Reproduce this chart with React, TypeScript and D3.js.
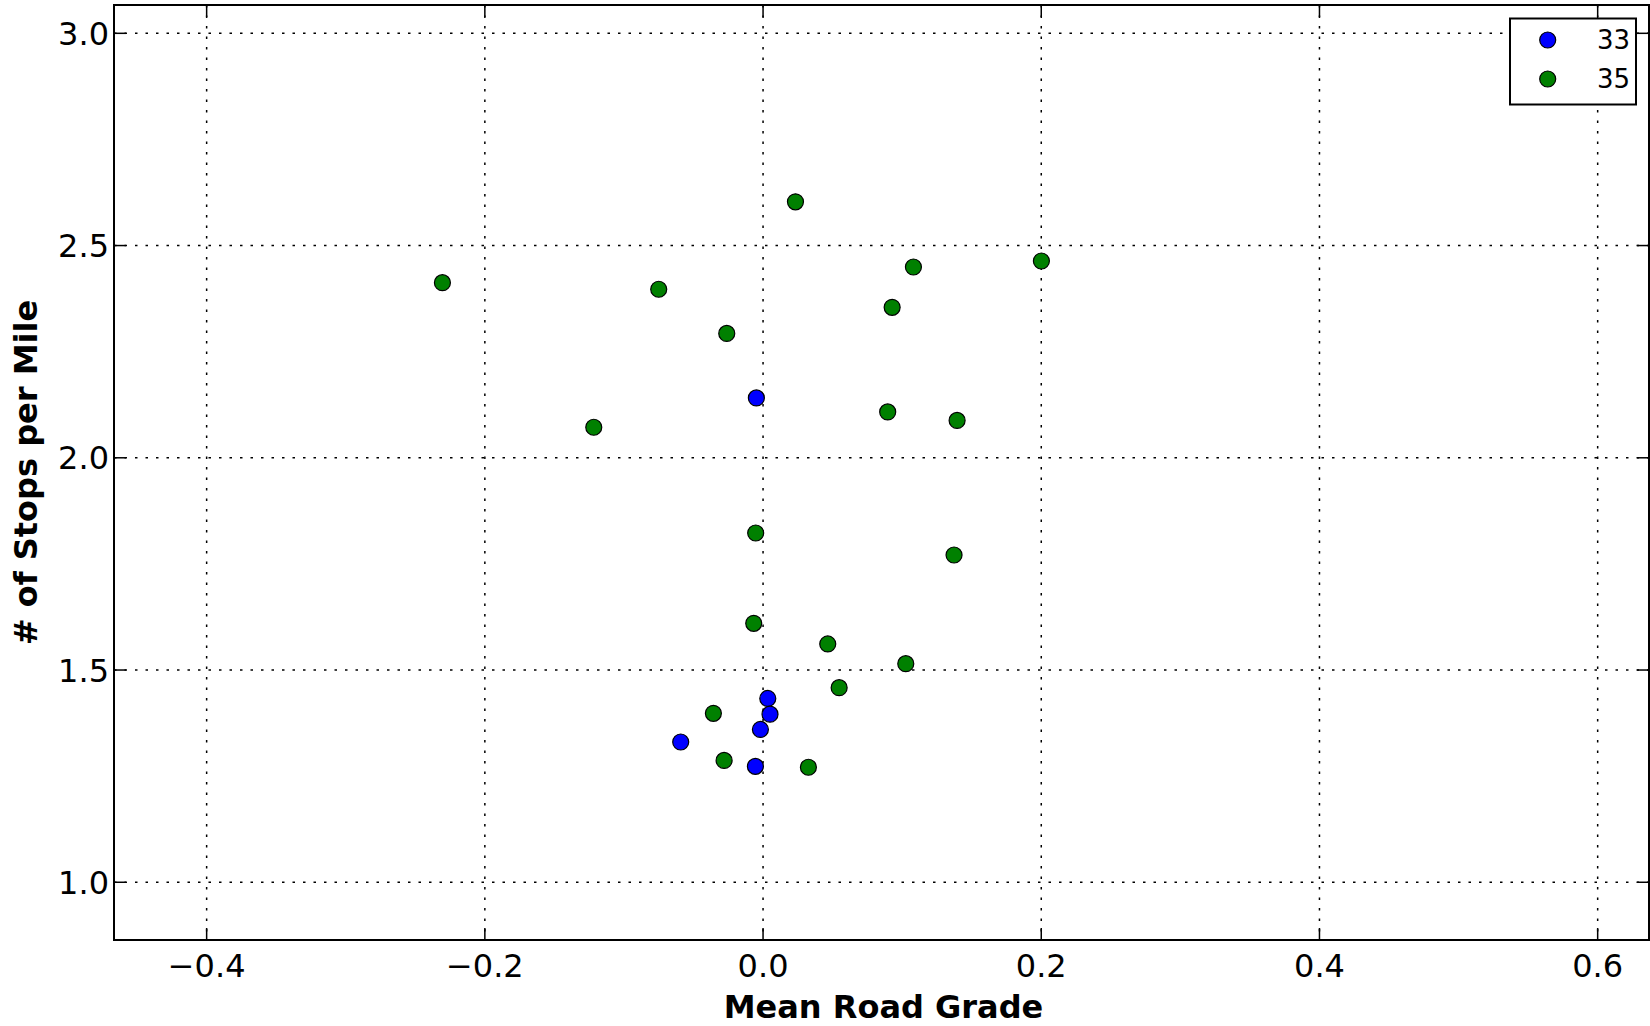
import React from "react";
import * as d3 from "d3";

const seriesNames = ["33", "35"];
const seriesColors = ["#0000ff", "#008000"];

const grade33 = [-0.0048, 0.0034, 0.005, -0.0019, -0.0592, -0.0055];
const stops33 = [2.141, 1.433, 1.396, 1.36, 1.3305, 1.273];

const grade35 = [
  0.0233, -0.2305, -0.075, -0.0261, 0.1081, 0.2001, 0.0928, -0.1217, 0.0896,
  0.1395, -0.0053, 0.1373, -0.0067, 0.0465, 0.1026, 0.0547, -0.0357, -0.028,
  0.0326,
];
const stops35 = [
  2.603, 2.4125, 2.397, 2.293, 2.4495, 2.4636, 2.3545, 2.072, 2.108, 2.088,
  1.8228, 1.771, 1.61, 1.5614, 1.515, 1.4585, 1.398, 1.287, 1.271,
];

const xTicks = [-0.4, -0.2, 0.0, 0.2, 0.4, 0.6];
const yTicks = [1.0, 1.5, 2.0, 2.5, 3.0];
const xDomain = [-0.4666, 0.6369];
const yDomain = [0.864, 3.0667];

const W = 1650;
const H = 1026;
const L = 114;
const R = 1649;
const T = 5;
const B = 940;

const fmtTick = (v: number) => {
  const s = v.toFixed(1);
  return s.startsWith("-") ? "\u2212" + s.slice(1) : s;
};

export default function App() {
  const x = d3.scaleLinear().domain(xDomain).range([L, R]);
  const y = d3.scaleLinear().domain(yDomain).range([B, T]);
  const series = [
    { name: seriesNames[0], color: seriesColors[0], xs: grade33, ys: stops33 },
    { name: seriesNames[1], color: seriesColors[1], xs: grade35, ys: stops35 },
  ];
  const font = "'DejaVu Sans', sans-serif";
  const tickLen = 12;
  const grid = "2.5,8";
  return (
    <svg
      width={W}
      height={H}
      style={{ position: "absolute", left: 0, top: 0, display: "block" }}
      fontFamily={font}
    >
      <rect x={0} y={0} width={W} height={H} fill="#fff" />
      {/* grid */}
      {xTicks.map((t) => (
        <line
          key={"gx" + t}
          x1={x(t)}
          x2={x(t)}
          y1={T}
          y2={B}
          stroke="#000"
          strokeWidth={1.5}
          strokeDasharray={grid}
        />
      ))}
      {yTicks.map((t) => (
        <line
          key={"gy" + t}
          x1={L}
          x2={R}
          y1={y(t)}
          y2={y(t)}
          stroke="#000"
          strokeWidth={1.5}
          strokeDasharray={grid}
        />
      ))}
      {/* points */}
      {series.map((s) =>
        s.xs.map((v, i) => (
          <circle
            key={s.name + "-" + i}
            cx={x(v)}
            cy={y(s.ys[i])}
            r={8}
            fill={s.color}
            stroke="#000"
            strokeWidth={1.2}
          />
        ))
      )}
      {/* ticks */}
      {xTicks.map((t) => (
        <g key={"tx" + t}>
          <line x1={x(t)} x2={x(t)} y1={B} y2={B - tickLen} stroke="#000" strokeWidth={1.5} />
          <line x1={x(t)} x2={x(t)} y1={T} y2={T + tickLen} stroke="#000" strokeWidth={1.5} />
          <text x={x(t)} y={977} fontSize={32} textAnchor="middle" fill="#000">
            {fmtTick(t)}
          </text>
        </g>
      ))}
      {yTicks.map((t) => (
        <g key={"ty" + t}>
          <line x1={L} x2={L + tickLen} y1={y(t)} y2={y(t)} stroke="#000" strokeWidth={1.5} />
          <line x1={R} x2={R - tickLen} y1={y(t)} y2={y(t)} stroke="#000" strokeWidth={1.5} />
          <text
            x={109}
            y={y(t)}
            dy="0.36em"
            fontSize={32}
            textAnchor="end"
            fill="#000"
          >
            {fmtTick(t)}
          </text>
        </g>
      ))}
      {/* spines */}
      <rect x={L} y={T} width={R - L} height={B - T} fill="none" stroke="#000" strokeWidth={2} />
      {/* axis labels */}
      <text
        x={(L + R) / 2 + 2}
        y={1017.5}
        fontSize={32}
        fontWeight="bold"
        textAnchor="middle"
        fill="#000"
      >
        Mean Road Grade
      </text>
      <text
        transform={`translate(37, ${(T + B) / 2}) rotate(-90)`}
        fontSize={32}
        fontWeight="bold"
        textAnchor="middle"
        fill="#000"
      >
        # of Stops per Mile
      </text>
      {/* legend */}
      <rect x={1510} y={18.5} width={126} height={86} fill="#fff" stroke="#000" strokeWidth={2} />
      {series.map((s, i) => (
        <g key={"lg" + s.name}>
          <circle cx={1547.7} cy={40 + i * 39} r={8} fill={s.color} stroke="#000" strokeWidth={1.2} />
          <text x={1630} y={49 + i * 39} fontSize={26} textAnchor="end" fill="#000">
            {s.name}
          </text>
        </g>
      ))}
    </svg>
  );
}
